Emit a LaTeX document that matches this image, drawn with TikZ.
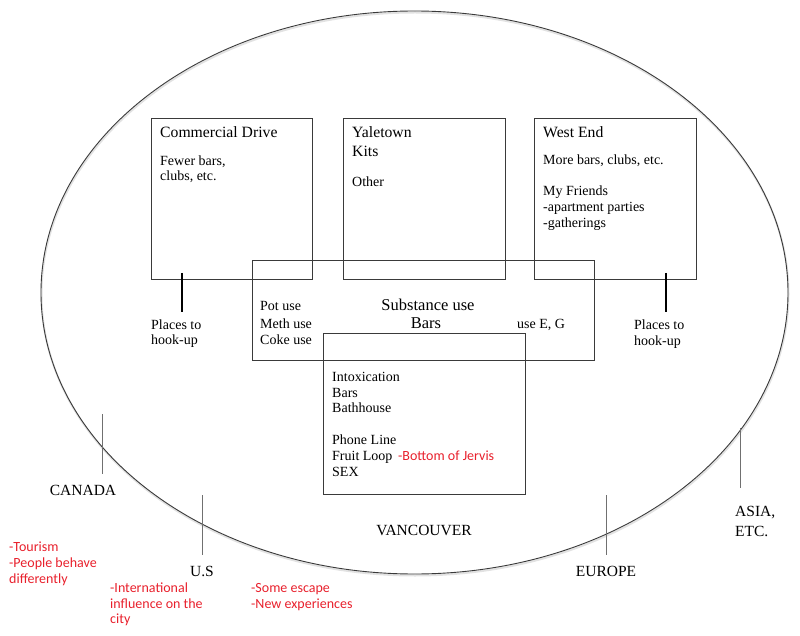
\documentclass[tikz,border=0pt]{standalone}
\usepackage{fontspec}
\usetikzlibrary{shapes.geometric}
\setmainfont{Liberation Serif}
\newfontfamily\notefont{Carlito}
\definecolor{boxline}{HTML}{3A3A3A}
\definecolor{notered}{RGB}{232,32,44}
\definecolor{tickgray}{HTML}{707070}
\definecolor{rimgray}{HTML}{E2E2E2}
\begin{document}
\begin{tikzpicture}[x=1pt,y=-1pt,
  area/.style={draw=boxline, line width=0.9pt, inner sep=0pt, anchor=north west},
  txt/.style={font=\fontsize{14}{16}\selectfont, inner sep=0pt, anchor=base west},
  head/.style={font=\fontsize{15.7}{18}\selectfont, inner sep=0pt, anchor=base west},
  big/.style={font=\fontsize{16.5}{19}\selectfont, inner sep=0pt, anchor=base},
  region/.style={font=\fontsize{15.5}{18}\selectfont, inner sep=0pt},
  note/.style={font=\notefont\fontsize{14}{16}\selectfont, text=notered, inner sep=0pt, anchor=base west},
  hookline/.style={draw=black, line width=1.3pt},
  tick/.style={draw=tickgray, line width=0.9pt}]
\useasboundingbox (0,0) rectangle (800,636);
% outer ellipse (Vancouver) with faint rim
\draw[draw=rimgray, line width=2pt] (415,294) ellipse [x radius=373.5pt, y radius=281.5pt];
\node[draw=boxline, line width=0.9pt, ellipse, inner sep=0pt, minimum width=747pt, minimum height=563pt] (van) at (414.5,292.5) {};
% boxes
\node[area, minimum width=161pt, minimum height=161pt] (cd) at (151,118) {};
\node[area, minimum width=162pt, minimum height=161pt] (yk) at (343,118) {};
\node[area, minimum width=162pt, minimum height=161pt] (we) at (534,118) {};
\node[area, minimum width=342pt, minimum height=100pt] (su) at (252,260) {};
\node[area, minimum width=202pt, minimum height=161pt] (ib) at (323,333) {};
% Commercial Drive
\node[head] (cdh) at (160,138) {Commercial Drive};
\node[txt] (cd1) at (160,165.5) {Fewer bars,};
\node[txt] (cd2) at (160,181) {clubs, etc.};
% Yaletown
\node[head] (ykh) at (352,138) {Yaletown};
\node[head] (yk1) at (352,156.5) {Kits};
\node[txt] (yk2) at (352,187) {Other};
% West End
\node[head] (weh) at (543,137.5) {West End};
\node[txt] (we1) at (543,165) {More bars, clubs, etc.};
\node[txt] (we2) at (543,196) {My Friends};
\node[txt] (we3) at (543,211.7) {-apartment parties};
\node[txt] (we4) at (543,227.3) {-gatherings};
% Substance use box
\node[txt] (su1) at (260,310) {Pot use};
\node[txt] (su2) at (260,328.3) {Meth use};
\node[txt] (su3) at (260,344.3) {Coke use};
\node[big] (suh) at (428,310) {Substance use};
\node[big] (sub) at (426,328.3) {Bars};
\node[txt] (su4) at (517,328.3) {use E, G};
% Intoxication box
\node[txt] (ib1) at (332,381.7) {Intoxication};
\node[txt] (ib2) at (332,397.3) {Bars};
\node[txt] (ib3) at (332,412.7) {Bathhouse};
\node[txt] (ib4) at (332,444.3) {Phone Line};
\node[txt] (ib5) at (332,460.3) {Fruit Loop};
\node[note] (ib6) at (398,460.3) {-Bottom of Jervis};
\node[txt] (ib7) at (332,476) {SEX};
% hook-up lines and labels
\coordinate (h1a) at (182,273);
\coordinate (h1b) at (182,312);
\draw[hookline] (h1a) -- (h1b);
\node[txt] (hk1) at (151,329) {Places to};
\node[txt] (hk2) at (151,344.5) {hook-up};
\coordinate (h2a) at (666,273);
\coordinate (h2b) at (666,312);
\draw[hookline] (h2a) -- (h2b);
\node[txt] (hk3) at (634,329.3) {Places to};
\node[txt] (hk4) at (634,345) {hook-up};
% region ticks
\coordinate (caA) at (102,414);
\coordinate (caB) at (102,474);
\draw[tick] (caA) -- (caB);
\coordinate (usA) at (202,495);
\coordinate (usB) at (202,555);
\draw[tick] (usA) -- (usB);
\coordinate (euA) at (606,495);
\coordinate (euB) at (606,555);
\draw[tick] (euA) -- (euB);
\coordinate (asA) at (740,428);
\coordinate (asB) at (740,488);
\draw[tick] (asA) -- (asB);
% region labels
\node[region, anchor=base] (ca) at (83,495.7) {CANADA};
\node[region, anchor=base] (us) at (202,576.7) {U.S};
\node[region, anchor=base] (eu) at (606,576.7) {EUROPE};
\node[region, anchor=base] (vc) at (424,535.7) {VANCOUVER};
\node[region, anchor=base west] (as1) at (735,516) {ASIA,};
\node[region, anchor=base west] (as2) at (735,536.7) {ETC.};
% red notes
\node[note] (n1) at (9,551.7) {-Tourism};
\node[note] (n2) at (9,567.7) {-People behave};
\node[note] (n3) at (9,583.3) {differently};
\node[note] (n4) at (110,592.7) {-International};
\node[note] (n5) at (110,608.3) {influence on the};
\node[note] (n6) at (110,623.3) {city};
\node[note] (n7) at (251,592.7) {-Some escape};
\node[note] (n8) at (251,608.3) {-New experiences};
\end{tikzpicture}
\end{document}
